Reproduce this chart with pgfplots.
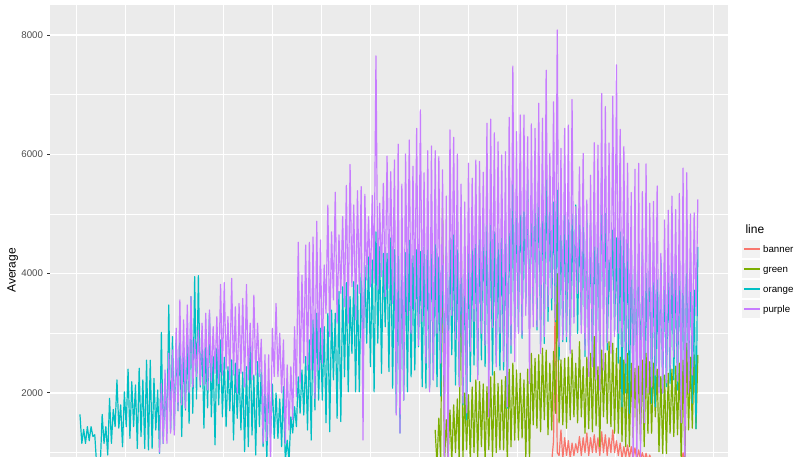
\documentclass[border=0pt]{standalone}
\usepackage{fontspec}
\setmainfont{Liberation Sans}
\usepackage{pgfplots}
\pgfplotsset{compat=1.18}
\definecolor{ggbg}{HTML}{EBEBEB}
\definecolor{ggtext}{HTML}{4D4D4D}
\definecolor{ggtick}{HTML}{333333}
\definecolor{keybg}{HTML}{F2F2F2}
\definecolor{cbanner}{HTML}{F8766D}
\definecolor{cgreen}{HTML}{7CAE00}
\definecolor{corange}{HTML}{00BFC4}
\definecolor{cpurple}{HTML}{C77CFF}
\begin{document}
\begin{tikzpicture}
\useasboundingbox (0,0) rectangle (797pt,457pt);
\begin{axis}[
  at={(50pt,0pt)}, anchor=south west,
  width=678pt, height=452pt, scale only axis,
  xmin=-16.2, xmax=350.3, ymin=927, ymax=8503,
  axis background/.style={fill=ggbg},
  axis line style={draw=none},
  xtick={-1.784,24.702,...,343},
  xticklabels={},
  xtick style={draw=none},
  ytick={2000,4000,6000,8000},
  yticklabels={2000,4000,6000,8000},
  minor ytick={1000,3000,5000,7000},
  xmajorgrids, ymajorgrids, yminorgrids,
  major grid style={white, line width=1.1pt},
  minor grid style={white, line width=0.55pt},
  tick align=outside, tick pos=left,
  ytick style={draw=ggtick, line width=1pt},
  major tick length=2.8pt, minor tick length=0pt,
  yticklabel style={font=\fontsize{9.7}{11}\selectfont, text=ggtext, inner sep=0pt, anchor=east, xshift=-4pt},
]
\addplot[cbanner, line width=1.2pt, line join=round] table[x expr=\coordindex+255, y=v, row sep=\\] {v\\850\\1200\\3950\\1000\\950\\1380\\900\\1250\\950\\1200\\900\\1160\\950\\1150\\1000\\1270\\950\\1250\\1000\\1330\\950\\1250\\1000\\1300\\1000\\1250\\950\\1350\\1000\\1300\\950\\1250\\1000\\1380\\1000\\1200\\950\\1160\\900\\1100\\920\\1130\\900\\1100\\900\\1080\\880\\1045\\880\\1000\\870\\990\\860\\960\\850\\900\\800\\880\\800\\880\\800\\880\\800\\880\\800\\880\\800\\880\\800\\880\\800\\1000\\850\\900\\800\\880\\800\\880\\800\\880\\};
\addplot[cgreen, line width=1.2pt, line join=round] table[x expr=\coordindex+192, y=v, row sep=\\] {v\\1380\\800\\1580\\850\\5100\\800\\1550\\900\\1715\\850\\1800\\1000\\1900\\850\\4955\\900\\2000\\1050\\1970\\850\\2100\\1000\\2220\\900\\2190\\1100\\2150\\850\\2105\\1050\\2270\\900\\2360\\1000\\2160\\1050\\2220\\1045\\2275\\850\\2400\\1100\\2500\\1210\\2385\\1210\\2330\\1245\\2220\\900\\2400\\850\\2665\\1465\\2580\\1410\\2640\\1350\\
2750\\1550\\2720\\1300\\2500\\1380\\2695\\1660\\4000\\1500\\2555\\1465\\2580\\1410\\2600\\1550\\2720\\1600\\2500\\1500\\2860\\1600\\2440\\1325\\2600\\1400\\2665\\1350\\2945\\1450\\2440\\1100\\2720\\1600\\2665\\1490\\2860\\1435\\2835\\1325\\2750\\1325\\2600\\1185\\2555\\1100\\2665\\1100\\2500\\1250\\
2415\\1325\\2450\\1200\\2550\\1100\\2665\\1325\\2525\\1325\\2500\\1600\\2400\\1015\\2275\\985\\2300\\985\\2330\\1325\\2400\\1270\\2450\\1300\\2500\\850\\2550\\850\\2835\\1380\\2600\\1410\\2640\\1400\\2640\\};
\addplot[corange, line width=1.2pt, line join=round] table[x expr=\coordindex, y=v, row sep=\\] {v\\1640\\1155\\1390\\1155\\1435\\1200\\1435\\1270\\1300\\800\\850\\800\\1640\\1155\\1435\\960\\1910\\1155\\1725\\1435\\2220\\1410\\1800\\1100\\2020\\1435\\2400\\1240\\2190\\1435\\2135\\1070\\2415\\1270\\2220\\1070\\2550\\1045\\2550\\1070\\2245\\1380\\2050\\990\\3015\\1155\\2220\\1325\\3475\\1380\\
2945\\1380\\2890\\1700\\2945\\1270\\2700\\1715\\2835\\1490\\3615\\1660\\3950\\1900\\3966\\2100\\2900\\1410\\2800\\1750\\3335\\1600\\2610\\1130\\2750\\1800\\2890\\1600\\2600\\1435\\2440\\1700\\2555\\1210\\2500\\1575\\2400\\1380\\2350\\1015\\2440\\1100\\2890\\1295\\2300\\960\\2525\\1435\\2400\\1100\\
2100\\880\\2220\\1270\\2150\\1240\\2000\\1240\\1900\\1100\\2105\\850\\1210\\850\\1600\\1330\\1770\\1435\\2270\\1660\\2385\\1630\\2610\\1380\\2890\\1210\\3225\\1715\\3335\\1880\\3085\\1880\\3110\\1500\\3335\\1350\\3390\\2220\\3335\\1575\\3700\\1520\\3780\\2270\\3850\\2020\\3615\\2665\\3865\\2020\\
3810\\2020\\4005\\2525\\4140\\2835\\4280\\2440\\4230\\2020\\4700\\2835\\4450\\2330\\4340\\3110\\4340\\2360\\4600\\2080\\4400\\1665\\4300\\1330\\4450\\1880\\4350\\2020\\4560\\2270\\4300\\2385\\4400\\2775\\4370\\2105\\4450\\2080\\4500\\2080\\4730\\2220\\4500\\2105\\4280\\1950\\4350\\2190\\4450\\2440\\
4600\\2640\\4650\\2135\\4400\\2135\\4450\\1800\\4300\\1550\\4540\\2190\\4500\\2470\\4600\\2300\\4700\\2555\\5040\\2440\\4850\\2385\\4930\\2300\\4700\\2500\\4510\\2385\\4680\\2385\\4900\\1745\\5460\\2665\\5625\\3030\\5300\\3030\\5540\\2915\\5200\\3500\\5570\\3100\\5300\\3390\\5650\\3055\\5790\\2805\\
5500\\2830\\5960\\3200\\5290\\3390\\5200\\3195\\5400\\2555\\5100\\2860\\5065\\2860\\4900\\2720\\5000\\3280\\5150\\3000\\5000\\3140\\4955\\2610\\4900\\2665\\4845\\2470\\5000\\2415\\5205\\2330\\5710\\3445\\5010\\2720\\4230\\3335\\4730\\3030\\4600\\2500\\4700\\1770\\4620\\2000\\4900\\1660\\4500\\2080\\
4560\\2300\\4400\\2220\\4370\\1715\\4005\\2385\\4510\\1830\\4370\\1770\\3895\\2105\\4230\\2000\\4005\\2105\\4100\\2160\\4230\\2220\\4115\\2050\\4230\\2000\\4300\\1500\\4480\\2275\\4200\\1830\\3725\\1400\\4450\\};
\addplot[cpurple, line width=1.2pt, line join=round] table[x expr=\coordindex+43, y=v, row sep=\\] {v\\1000\\
2160\\1155\\2385\\1155\\2665\\1325\\2720\\1295\\3085\\1715\\3560\\1800\\3225\\1745\\3475\\2000\\3615\\2100\\2900\\2275\\3055\\2135\\3170\\2135\\3335\\2050\\3390\\2200\\3110\\2330\\3280\\2160\\3820\\2300\\3850\\2400\\3280\\2220\\3920\\2300\\3445\\2000\\3500\\2330\\3585\\2100\\3820\\2220\\3170\\2220\\3640\\2300\\3170\\2275\\2900\\1155\\
2640\\1200\\2640\\850\\3085\\2275\\3500\\2275\\3000\\2000\\2890\\1155\\2470\\1380\\2440\\1550\\3110\\1940\\4525\\2160\\3975\\2500\\4480\\2385\\4525\\2385\\4615\\1910\\4880\\2385\\4565\\2500\\4145\\3335\\5150\\2945\\4700\\3560\\5365\\3170\\4650\\3670\\4955\\3445\\5480\\3170\\5830\\3780\\5150\\3225\\
5390\\3670\\5460\\1210\\5330\\3895\\4955\\3780\\5310\\3840\\7650\\3725\\5180\\3950\\5515\\3615\\5970\\3755\\5710\\3500\\5905\\1630\\6170\\1330\\5500\\1880\\6005\\3300\\6240\\3000\\5800\\3400\\6435\\2800\\6745\\3200\\5690\\2500\\6060\\2020\\6140\\2220\\6060\\3000\\5960\\2500\\5740\\800\\5300\\800\\
6410\\3300\\6285\\2900\\6005\\2105\\5500\\1830\\5200\\1665\\5850\\2700\\5600\\3200\\5905\\2220\\5880\\3000\\5700\\2800\\6520\\1600\\6590\\3100\\6360\\2440\\6210\\3000\\5990\\2525\\6045\\1770\\6620\\2800\\7480\\2525\\6380\\3000\\6660\\2970\\6660\\3300\\6295\\2160\\6510\\3110\\6435\\3110\\6855\\2665\\
6605\\2945\\7410\\3445\\6015\\3590\\6880\\3225\\8085\\2775\\6100\\2890\\6435\\2945\\6490\\2665\\6920\\3170\\5120\\3670\\5790\\3000\\6015\\2720\\5235\\2275\\5650\\2440\\6195\\2220\\6155\\2050\\7020\\2385\\6800\\2840\\6190\\2665\\6975\\2945\\7500\\3000\\6420\\2775\\6130\\2500\\5850\\2720\\5360\\800\\
5750\\800\\5850\\800\\5375\\1500\\5840\\2000\\5180\\2100\\5210\\2300\\5470\\2000\\4340\\2000\\4900\\2170\\5065\\2400\\5300\\2600\\5075\\2200\\5345\\1500\\5770\\800\\5690\\2000\\5000\\2300\\5020\\3300\\5245\\};
\end{axis}
% legend
\node[anchor=base west, font=\fontsize{12}{14}\selectfont] at (742pt,223pt) {line};
\foreach \yc/\col/\lab in {208/cbanner/banner, 188/cgreen/green, 168/corange/orange, 148/cpurple/purple}{
  \fill[keybg] (742pt,\yc pt-9pt) rectangle (760pt,\yc pt+9pt);
  \fill[\col] (744pt,\yc pt-1pt) rectangle (760pt,\yc pt+1pt);
  \node[anchor=base west, inner sep=0pt, font=\fontsize{9.7}{11}\selectfont] at (763pt,\yc pt-3.4pt) {\lab};
}
\node[rotate=90, font=\fontsize{12}{14}\selectfont] at (12.7pt,186.5pt) {Average};
\end{tikzpicture}
\end{document}
